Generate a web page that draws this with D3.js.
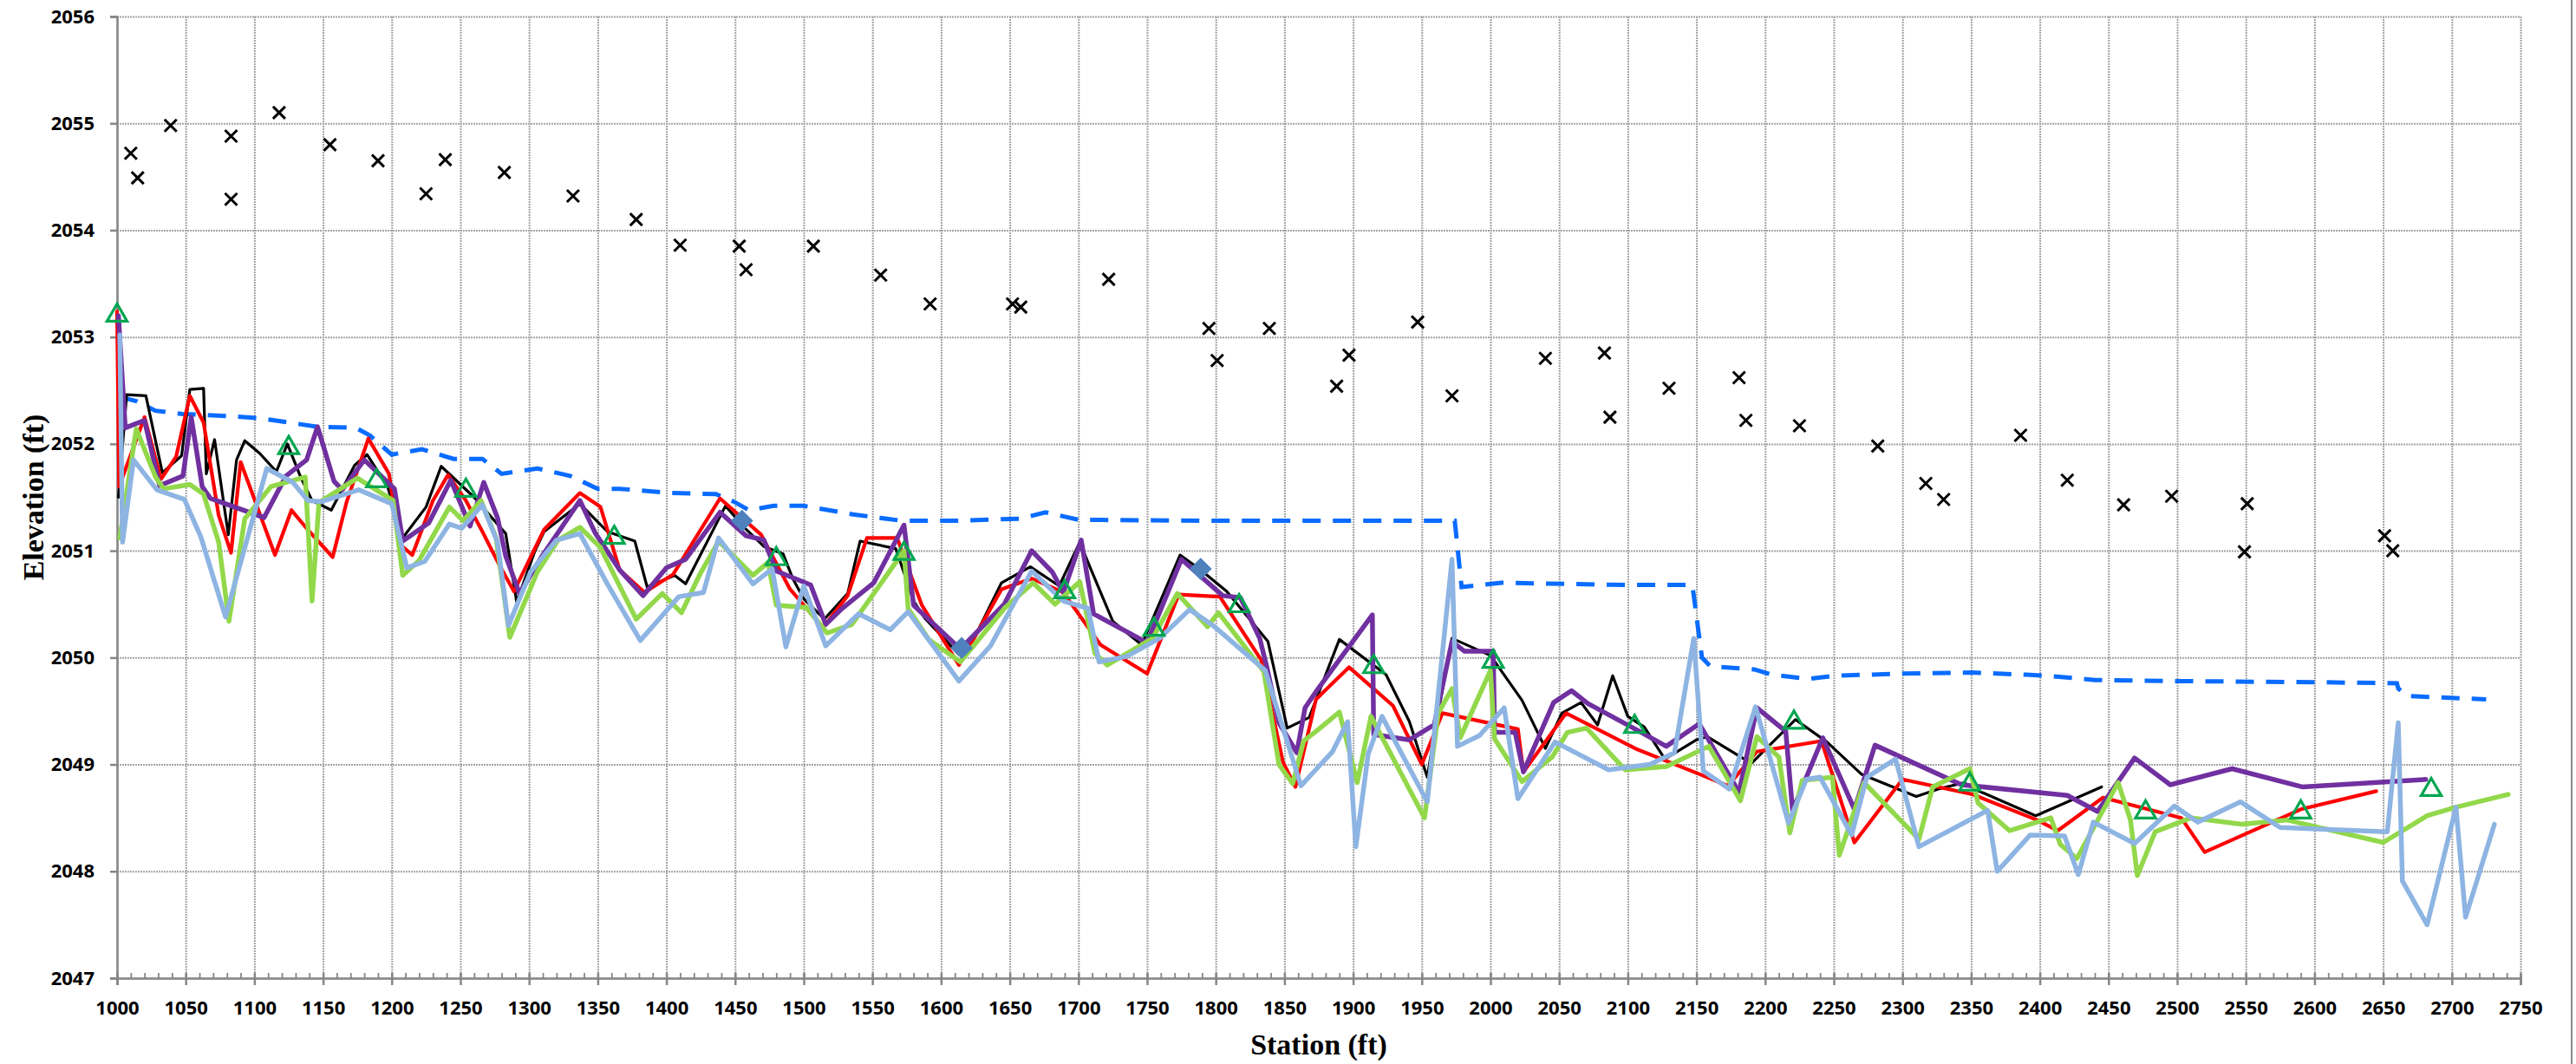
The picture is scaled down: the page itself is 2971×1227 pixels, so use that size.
<!DOCTYPE html>
<html>
<head>
<meta charset="utf-8">
<script src="https://cdn.jsdelivr.net/npm/d3@7/dist/d3.min.js"></script>
<style>
  html, body { margin: 0; padding: 0; background: #fff; }
  svg { display: block; }
</style>
</head>
<body>
<svg id="chart" width="2971" height="1227"></svg>
<script>
// ---- Data: station (ft) vs elevation (ft) ----
const xTickLabels = [1000,1050,1100,1150,1200,1250,1300,1350,1400,1450,1500,1550,1600,1650,1700,
  1750,1800,1850,1900,1950,2000,2050,2100,2150,2200,2250,2300,2350,2400,2450,2500,2550,2600,2650,2700,2750];
const yTickLabels = [2047,2048,2049,2050,2051,2052,2053,2054,2055,2056];

// Bank / top points
const bankPoints = [
  [1010,2054.72],[1015,2054.49],[1039,2054.98],[1083,2054.88],[1083,2054.29],[1118,2055.10],
  [1155,2054.80],[1190,2054.65],[1225,2054.34],[1239,2054.66],[1282,2054.54],[1332,2054.32],
  [1378,2054.10],[1410,2053.86],[1453,2053.85],[1458,2053.63],[1507,2053.85],[1556,2053.58],
  [1592,2053.31],[1652,2053.31],[1658,2053.28],[1722,2053.54],[1795,2053.08],[1801,2052.78],
  [1839,2053.08],[1888,2052.54],[1897,2052.83],[1947,2053.14],[1972,2052.45],[2040,2052.80],
  [2083,2052.85],[2087,2052.25],[2130,2052.52],[2181,2052.62],[2186,2052.22],[2225,2052.17],
  [2282,2051.98],[2317,2051.63],[2330,2051.48],[2386,2052.08],[2420,2051.66],[2461,2051.43],
  [2496,2051.51],[2551,2051.44],[2549,2050.99],[2651,2051.14],[2657,2051.00]
];

// Water surface (dashed)
const waterSurface = [
  [1002,2052.44],[1014,2052.40],[1028,2052.31],[1048,2052.28],[1081,2052.26],[1104,2052.24],
  [1125,2052.20],[1146,2052.16],[1174,2052.15],[1184,2052.08],[1200,2051.90],[1222,2051.95],
  [1245,2051.86],[1266,2051.86],[1280,2051.72],[1306,2051.77],[1330,2051.70],[1350,2051.58],
  [1366,2051.58],[1403,2051.54],[1436,2051.53],[1449,2051.46],[1460,2051.38],[1478,2051.42],
  [1500,2051.42],[1536,2051.34],[1572,2051.28],[1608,2051.28],[1658,2051.30],[1676,2051.36],
  [1700,2051.29],[1800,2051.28],[1974,2051.28],[1979,2050.66],[2008,2050.70],[2100,2050.68],
  [2147,2050.68],[2154,2050.00],[2160,2049.92],[2192,2049.89],[2205,2049.84],[2231,2049.80],
  [2250,2049.83],[2300,2049.85],[2350,2049.86],[2390,2049.84],[2406,2049.83],[2440,2049.79],
  [2500,2049.78],[2600,2049.77],[2660,2049.76],[2661,2049.71],[2668,2049.64],[2725,2049.61]
];

const profileBlack = [
  [1001,2051.50],[1007,2052.46],[1021,2052.45],[1033,2051.73],[1047,2051.89],[1053,2052.51],
  [1063,2052.52],[1065,2051.72],[1071,2052.04],[1081,2051.15],[1087,2051.85],[1093,2052.03],
  [1104,2051.91],[1116,2051.74],[1124,2052.00],[1134,2051.68],[1142,2051.47],[1156,2051.38],
  [1173,2051.80],[1182,2051.90],[1197,2051.60],[1208,2051.12],[1225,2051.41],[1236,2051.79],
  [1260,2051.50],[1283,2051.16],[1291,2050.52],[1304,2050.99],[1311,2051.18],[1337,2051.44],
  [1350,2051.27],[1357,2051.18],[1377,2051.09],[1386,2050.66],[1406,2050.77],[1414,2050.69],
  [1443,2051.42],[1458,2051.20],[1471,2051.04],[1485,2050.97],[1492,2050.74],[1500,2050.55],
  [1515,2050.36],[1532,2050.60],[1541,2051.09],[1567,2051.02],[1580,2050.53],[1588,2050.37],
  [1613,2050.03],[1624,2050.18],[1644,2050.70],[1665,2050.85],[1686,2050.67],[1701,2051.08],
  [1707,2050.89],[1725,2050.34],[1746,2050.12],[1774,2050.96],[1788,2050.83],[1808,2050.62],
  [1838,2050.15],[1852,2049.34],[1868,2049.44],[1890,2050.17],[1924,2049.84],[1941,2049.40],
  [1954,2048.88],[1960,2049.35],[1972,2050.18],[2000,2050.02],[2023,2049.60],[2040,2049.15],
  [2052,2049.48],[2066,2049.58],[2078,2049.37],[2089,2049.83],[2100,2049.45],[2112,2049.35],
  [2127,2049.05],[2150,2049.23],[2158,2049.26],[2190,2049.01],[2222,2049.42],[2245,2049.21],
  [2270,2048.91],[2310,2048.70],[2326,2048.77],[2345,2048.83],[2354,2048.76],[2397,2048.52],
  [2445,2048.79]
];

const profileRed = [
  [1000,2053.24],[1001.5,2051.60],[1020,2052.25],[1032,2051.67],[1043,2051.88],[1053,2052.45],
  [1063,2052.20],[1074,2051.33],[1083,2050.98],[1090,2051.83],[1115,2050.96],[1127,2051.38],
  [1138,2051.21],[1157,2050.94],[1167,2051.45],[1183,2052.05],[1198,2051.72],[1206,2051.06],
  [1215,2050.96],[1230,2051.47],[1241,2051.71],[1254,2051.47],[1266,2051.18],[1279,2050.85],
  [1289,2050.62],[1311,2051.20],[1337,2051.54],[1352,2051.41],[1366,2050.82],[1384,2050.61],
  [1405,2050.78],[1439,2051.49],[1469,2051.15],[1490,2050.64],[1514,2050.28],[1532,2050.58],
  [1546,2051.12],[1568,2051.12],[1586,2050.49],[1613,2049.93],[1644,2050.64],[1666,2050.74],
  [1689,2050.61],[1716,2050.12],[1750,2049.85],[1773,2050.59],[1803,2050.57],[1833,2049.98],
  [1849,2049.02],[1858,2048.79],[1873,2049.61],[1897,2049.91],[1929,2049.55],[1950,2049.00],
  [1965,2049.48],[2020,2049.33],[2024,2048.93],[2055,2049.48],[2107,2049.14],[2152,2048.91],
  [2173,2048.80],[2194,2049.12],[2241,2049.22],[2265,2048.27],[2300,2048.86],[2351,2048.72],
  [2398,2048.48],[2413,2048.38],[2446,2048.69],[2503,2048.50],[2520,2048.18],[2590,2048.58],
  [2645,2048.75]
];

const profilePurple = [
  [1001,2053.20],[1006,2052.15],[1020,2052.22],[1031,2051.61],[1048,2051.70],[1054,2052.25],
  [1062,2051.60],[1068,2051.49],[1107,2051.31],[1123,2051.70],[1138,2051.85],[1146,2052.16],
  [1158,2051.65],[1164,2051.57],[1180,2051.85],[1198,2051.63],[1202,2051.58],[1208,2051.09],
  [1227,2051.26],[1243,2051.66],[1257,2051.23],[1267,2051.64],[1277,2051.31],[1283,2050.95],
  [1293,2050.60],[1310,2050.96],[1337,2051.47],[1348,2051.17],[1366,2050.82],[1383,2050.58],
  [1400,2050.84],[1414,2050.92],[1439,2051.36],[1458,2051.14],[1471,2051.10],[1480,2050.81],
  [1505,2050.68],[1516,2050.31],[1528,2050.46],[1551,2050.70],[1573,2051.24],[1580,2050.49],
  [1614,2050.08],[1646,2050.50],[1666,2051.00],[1681,2050.80],[1689,2050.61],[1702,2051.10],
  [1711,2050.41],[1750,2050.14],[1775,2050.92],[1805,2050.58],[1818,2050.56],[1832,2050.18],
  [1837,2049.92],[1846,2049.39],[1859,2049.11],[1865,2049.53],[1874,2049.70],[1914,2050.40],
  [1915,2049.28],[1941,2049.23],[1959,2049.37],[1972,2050.15],[1981,2050.06],[2002,2050.06],
  [2003,2049.30],[2018,2049.30],[2024,2048.93],[2046,2049.58],[2059,2049.69],[2071,2049.57],
  [2107,2049.32],[2128,2049.17],[2152,2049.38],[2181,2048.74],[2194,2049.53],[2215,2049.31],
  [2220,2048.57],[2242,2049.25],[2265,2048.58],[2280,2049.18],[2343,2048.81],[2420,2048.71],
  [2442,2048.56],[2469,2049.06],[2495,2048.81],[2540,2048.96],[2591,2048.79],[2681,2048.86]
];

const profileGreen = [
  [1002,2051.12],[1014,2052.14],[1028,2051.69],[1034,2051.58],[1053,2051.62],[1063,2051.53],
  [1074,2051.08],[1081.5,2050.34],[1093,2051.30],[1112,2051.60],[1137,2051.69],[1142,2050.53],
  [1147,2051.45],[1175,2051.68],[1201,2051.47],[1208,2050.77],[1220,2050.91],[1242,2051.41],
  [1252,2051.28],[1265,2051.47],[1276,2051.12],[1286,2050.19],[1306,2050.80],[1321,2051.10],
  [1337,2051.22],[1352,2051.03],[1378,2050.36],[1397,2050.60],[1411,2050.42],[1424,2050.77],
  [1438,2051.09],[1463,2050.77],[1474,2050.89],[1480,2050.49],[1502,2050.47],[1517,2050.23],
  [1535,2050.31],[1573,2051.00],[1576,2050.46],[1591,2050.17],[1614,2049.96],[1646,2050.46],
  [1667,2050.70],[1683,2050.50],[1701,2050.71],[1712,2050.04],[1721,2049.93],[1754,2050.18],
  [1772,2050.60],[1794,2050.29],[1802,2050.42],[1835,2049.87],[1846,2049.00],[1856,2048.82],
  [1864,2049.22],[1874,2049.32],[1890,2049.49],[1903,2048.83],[1913,2049.45],[1952,2048.50],
  [1962,2049.48],[1972,2049.71],[1978,2049.25],[2000,2049.88],[2003,2049.24],[2023,2048.84],
  [2045,2049.07],[2056,2049.30],[2070,2049.34],[2098,2048.95],[2128,2048.98],[2159,2049.17],
  [2182,2048.66],[2194,2049.26],[2210,2049.07],[2218,2048.36],[2227,2048.85],[2249,2048.88],
  [2254,2048.15],[2272,2048.83],[2312,2048.30],[2322,2048.79],[2349,2048.96],[2355,2048.64],
  [2378,2048.38],[2408,2048.50],[2415,2048.25],[2427,2048.12],[2457,2048.83],[2466,2048.48],
  [2471,2047.96],[2484,2048.37],[2510,2048.50],[2547,2048.44],[2580,2048.48],[2650,2048.27],
  [2682,2048.52],[2703,2048.60],[2741,2048.72]
];

const profileLightBlue = [
  [1002,2053.02],[1004,2051.08],[1012,2051.85],[1029,2051.57],[1049,2051.48],[1061,2051.13],
  [1079,2050.38],[1109,2051.77],[1128,2051.64],[1139,2051.47],[1149,2051.46],[1176,2051.57],
  [1200,2051.44],[1211,2050.84],[1224,2050.90],[1242,2051.25],[1251,2051.21],[1266,2051.43],
  [1277,2051.08],[1285,2050.30],[1301,2050.80],[1320,2051.10],[1337,2051.16],[1357,2050.69],
  [1381,2050.16],[1409,2050.57],[1427,2050.61],[1438,2051.12],[1463,2050.69],[1477,2050.83],
  [1487,2050.10],[1500,2050.67],[1516,2050.11],[1540,2050.41],[1563,2050.26],[1576,2050.43],
  [1613,2049.78],[1636,2050.11],[1666,2050.81],[1689,2050.53],[1707,2050.46],[1715,2049.96],
  [1735,2050.01],[1759,2050.18],[1781,2050.45],[1799,2050.29],[1836,2049.88],[1862,2048.80],
  [1885,2049.12],[1896,2049.40],[1902,2048.23],[1911,2049.10],[1921,2049.45],[1954,2048.65],
  [1972,2050.92],[1976,2049.17],[1992,2049.27],[2010,2049.53],[2020,2048.68],[2047,2049.21],
  [2086,2048.95],[2116,2049.00],[2134,2049.11],[2148,2050.18],[2155,2048.94],[2174,2048.77],
  [2193,2049.54],[2217,2048.45],[2230,2048.86],[2240,2048.88],[2263,2048.34],[2274,2048.88],
  [2295,2049.05],[2312,2048.23],[2362,2048.57],[2369,2048.00],[2393,2048.34],[2418,2048.33],
  [2428,2047.97],[2439,2048.46],[2469,2048.26],[2498,2048.61],[2515,2048.46],[2546,2048.65],
  [2575,2048.41],[2653,2048.37],[2661,2049.39],[2664,2047.91],[2682,2047.50],[2703,2048.60],
  [2710,2047.57],[2731,2048.44]
];

// Surveyed thalweg points (open triangles) and control points (diamonds)
const surveyPoints = [
  [1000,2053.23],[1125,2051.99],[1189,2051.68],[1254,2051.59],[1362,2051.15],[1480,2050.95],
  [1573,2051.00],[1690,2050.64],[1755,2050.29],[1817,2050.51],[1915,2049.94],[2002,2049.99],
  [2105,2049.38],[2221,2049.42],[2349,2048.84],[2477,2048.58],[2590,2048.58],[2685,2048.79]
];
const controlPoints = [[1455,2051.28],[1615,2050.09],[1789,2050.83]];

// ---- Layout ----
const svg = d3.select("#chart");
const plot = { left: 135, right: 2907, top: 19, bottom: 1128 };

const x = d3.scaleLinear().domain([1000, 2750]).range([plot.left, plot.right]);
const y = d3.scaleLinear().domain([2047, 2056]).range([plot.bottom, plot.top]);

const tickFont = "'Open Sans', 'Liberation Sans', sans-serif";
const titleFont = "'Liberation Serif', 'DejaVu Serif', serif";

// Gridlines
const grid = svg.append("g").attr("class", "grid");
grid.append("g")
  .attr("transform", `translate(0,${plot.bottom})`)
  .call(d3.axisBottom(x).tickValues(xTickLabels).tickSize(-(plot.bottom - plot.top)).tickFormat(""))
  .call(g => g.select(".domain").remove());
grid.append("g")
  .attr("transform", `translate(${plot.left},0)`)
  .call(d3.axisLeft(y).tickValues(yTickLabels).tickSize(-(plot.right - plot.left)).tickFormat(""))
  .call(g => g.select(".domain").remove());
grid.selectAll("line")
  .attr("stroke", "#a3a3a3")
  .attr("stroke-width", 2)
  .attr("stroke-dasharray", "2,1");

// Outer chart frame (right edge)
svg.append("line")
  .attr("x1", 2966).attr("x2", 2966).attr("y1", 0).attr("y2", 1227)
  .attr("stroke", "#8c8c8c").attr("stroke-width", 2);

// Axes
const axisColor = "#868686";
const yAxis = svg.append("g")
  .attr("transform", `translate(${plot.left},0)`)
  .call(d3.axisLeft(y).tickValues(yTickLabels).tickSize(8).tickPadding(18).tickFormat(d3.format("d")));
yAxis.select(".domain").attr("stroke", axisColor).attr("stroke-width", 2.5);
yAxis.selectAll(".tick line").attr("stroke", axisColor).attr("stroke-width", 2.5);
yAxis.selectAll(".tick text")
  .attr("font-family", tickFont).attr("font-weight", 700).attr("font-size", 22)
  .attr("fill", "#000");

// Minor ticks every 10 ft (inside) on the station axis
const minorTicks = d3.range(1000, 2751, 10);
const xMinor = svg.append("g")
  .attr("transform", `translate(0,${plot.bottom})`)
  .call(d3.axisTop(x).tickValues(minorTicks).tickSize(6).tickFormat(""));
xMinor.select(".domain").remove();
xMinor.selectAll(".tick line").attr("stroke", axisColor).attr("stroke-width", 1.8);

const xAxis = svg.append("g")
  .attr("transform", `translate(0,${plot.bottom})`)
  .call(d3.axisBottom(x).tickValues(xTickLabels).tickSize(8).tickFormat(d3.format("d")));
xAxis.select(".domain").attr("stroke", axisColor).attr("stroke-width", 2.5);
xAxis.selectAll(".tick line").attr("stroke", axisColor).attr("stroke-width", 2.5).attr("y1", -6);
xAxis.selectAll(".tick text")
  .attr("font-family", tickFont).attr("font-weight", 700).attr("font-size", 22)
  .attr("fill", "#000").attr("y", 42).attr("dy", 0);

// Axis titles
svg.append("text")
  .attr("x", (plot.left + plot.right) / 2).attr("y", 1216)
  .attr("text-anchor", "middle")
  .attr("font-family", titleFont).attr("font-weight", 700).attr("font-size", 34)
  .text("Station (ft)");
svg.append("text")
  .attr("transform", `translate(50,${(plot.top + plot.bottom) / 2}) rotate(-90)`)
  .attr("text-anchor", "middle")
  .attr("font-family", titleFont).attr("font-weight", 700).attr("font-size", 34)
  .text("Elevation (ft)");

// ---- Series ----
const line = d3.line().x(d => x(d[0])).y(d => y(d[1]));
const marks = svg.append("g").attr("class", "marks");

// Water surface profile
marks.append("path")
  .datum(waterSurface)
  .attr("d", line)
  .attr("fill", "none")
  .attr("stroke", "#0a6cff")
  .attr("stroke-width", 5)
  .attr("stroke-dasharray", "21,14");

// Bank points as crosses
const crossSymbol = {
  draw(ctx, size) {
    const r = Math.sqrt(size) / 2;
    ctx.moveTo(-r, -r); ctx.lineTo(r, r);
    ctx.moveTo(-r, r); ctx.lineTo(r, -r);
  }
};
marks.append("g").selectAll("path")
  .data(bankPoints)
  .join("path")
  .attr("transform", d => `translate(${x(d[0])},${y(d[1])})`)
  .attr("d", d3.symbol(crossSymbol, 196))
  .attr("fill", "none")
  .attr("stroke", "#000")
  .attr("stroke-width", 3);

// Bed profiles
const profiles = [
  { data: profileBlack, color: "#000000", width: 3.2 },
  { data: profileRed, color: "#ff0000", width: 4.2 },
  { data: profilePurple, color: "#7030a0", width: 5.5 },
  { data: profileGreen, color: "#92d84a", width: 5.5 },
  { data: profileLightBlue, color: "#8db4e2", width: 5.5 }
];
marks.append("g").selectAll("path")
  .data(profiles)
  .join("path")
  .attr("d", d => line(d.data))
  .attr("fill", "none")
  .attr("stroke", d => d.color)
  .attr("stroke-width", d => d.width)
  .attr("stroke-linejoin", "round")
  .attr("stroke-linecap", "round");

// Open triangles
const triangleSymbol = {
  draw(ctx, size) {
    const h = Math.sqrt(size);
    ctx.moveTo(0, -h * 0.5);
    ctx.lineTo(h * 0.58, h * 0.5);
    ctx.lineTo(-h * 0.58, h * 0.5);
    ctx.closePath();
  }
};
marks.append("g").selectAll("path")
  .data(surveyPoints)
  .join("path")
  .attr("transform", d => `translate(${x(d[0])},${y(d[1])})`)
  .attr("d", d3.symbol(triangleSymbol, 400))
  .attr("fill", "none")
  .attr("stroke", "#00a650")
  .attr("stroke-width", 3.2)
  .attr("stroke-linejoin", "miter");

// Filled diamonds
marks.append("g").selectAll("path")
  .data(controlPoints)
  .join("path")
  .attr("transform", d => `translate(${x(d[0])},${y(d[1])}) rotate(45)`)
  .attr("d", d3.symbol(d3.symbolSquare, 330))
  .attr("fill", "#4f81bd");
</script>
</body>
</html>
